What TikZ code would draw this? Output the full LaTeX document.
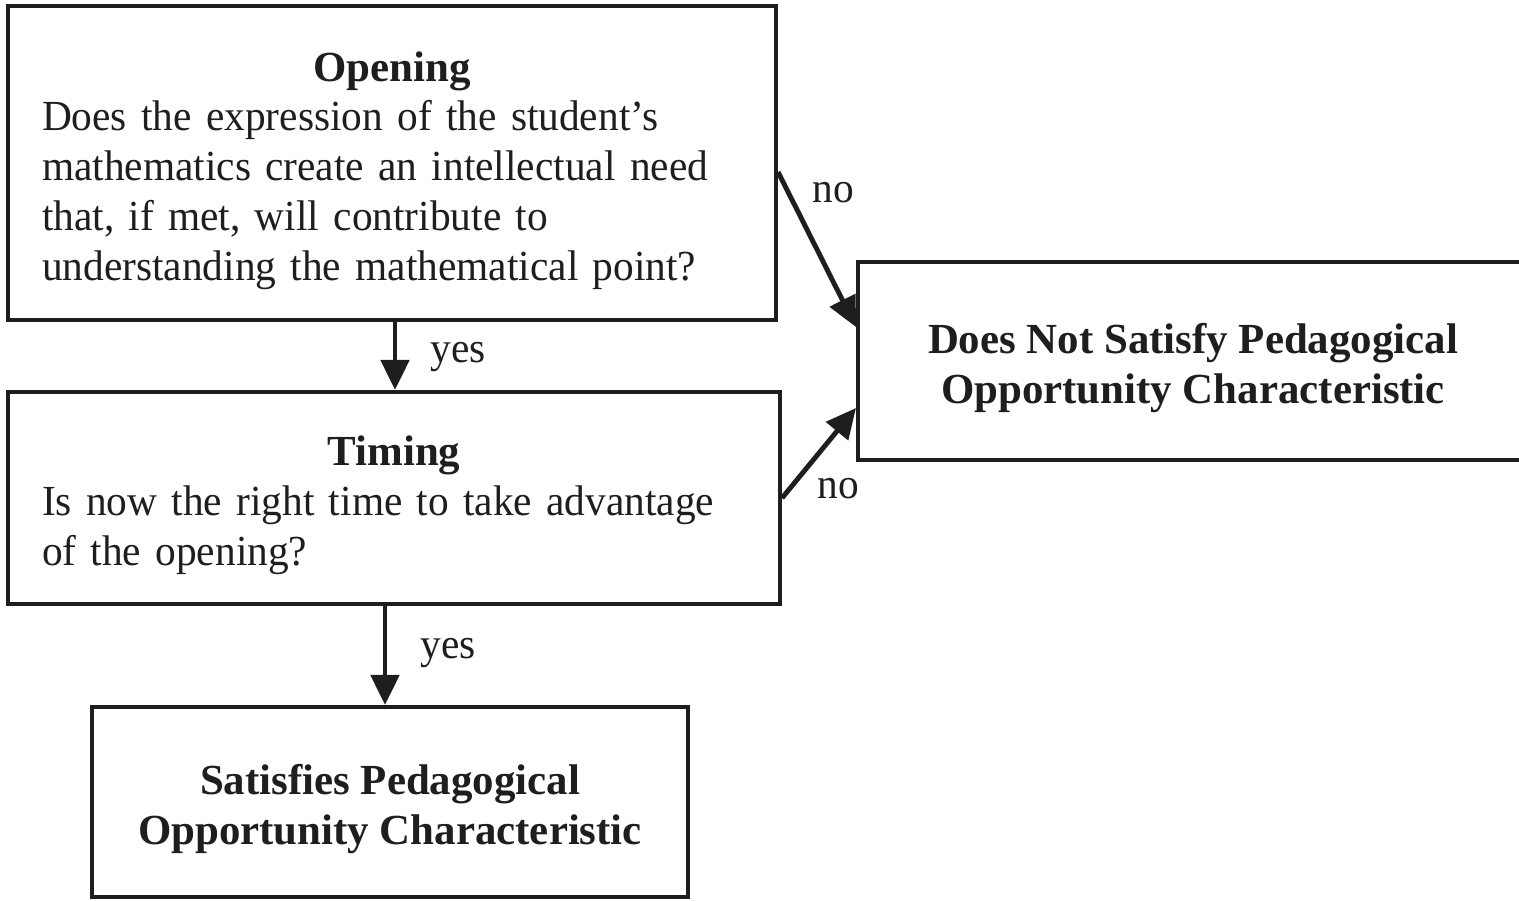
\documentclass[tikz,border=0pt]{standalone}
\usepackage{fontspec}
\setmainfont{Liberation Serif}[UprightFeatures={FakeStretch=0.965}]
\usetikzlibrary{arrows.meta}

\definecolor{inkgray}{HTML}{1E1E1E}
\newcommand{\topgap}{\rule{0pt}{0.45cm}}

\tikzset{
  BoxStyle/.style   = {draw=inkgray, text=inkgray, line width=1.15pt, rectangle, inner sep=0pt,
                       font=\fontsize{12.2}{14.2}\selectfont},
  EdgeStyle/.style  = {draw=inkgray, line width=1.4pt, -{Triangle[length=0.3cm,width=0.28cm]}},
  LabelStyle/.style = {text=inkgray, inner sep=0pt, font=\fontsize{12.2}{14.2}\selectfont}
}

\begin{document}
\begin{tikzpicture}
    \useasboundingbox (0,0) rectangle (15.19,-9.00);

    % Boxes
    \node[BoxStyle, minimum width=7.68cm, minimum height=3.14cm, text width=7.0cm, align=left]
        (Opening) at (3.92,-1.63)
        {\topgap\hfill\textbf{Opening}\hfill\mbox{}\\
         Does the expression of the student’s\\
         mathematics create an intellectual need\\
         that, if met, will contribute to\\
         understanding the mathematical point?};
    \node[BoxStyle, minimum width=7.72cm, minimum height=2.12cm, text width=7.04cm, align=left]
        (Timing) at (3.94,-4.98)
        {\topgap\hfill\textbf{Timing}\hfill\mbox{}\\
         Is now the right time to take advantage\\
         of the opening?};
    \node[BoxStyle, minimum width=5.96cm, minimum height=1.90cm, align=center, font=\fontsize{12.2}{14.2}\selectfont\bfseries]
        (Sat) at (3.90,-8.02)
        {\topgap Satisfies Pedagogical\\ Opportunity Characteristic};
    \node[BoxStyle, minimum width=6.70cm, minimum height=1.98cm, align=center, font=\fontsize{12.2}{14.2}\selectfont\bfseries]
        (NotSat) at (11.93,-3.61)
        {\topgap Does Not Satisfy Pedagogical\\ Opportunity Characteristic};

    % Edges
    \draw[EdgeStyle] ([xshift=0.03cm]Opening.south) -- ([xshift=0.03cm]Opening.south |- Timing.north);
    \draw[EdgeStyle] ([xshift=-0.05cm]Sat.north |- Timing.south) -- ([xshift=-0.05cm]Sat.north);
    \draw[EdgeStyle] ([yshift=-0.09cm]Opening.east) -- ([yshift=0.34cm]NotSat.west);
    \draw[EdgeStyle] (Timing.east) -- ([yshift=-0.47cm]NotSat.west);

    % Labels
    \node[LabelStyle] (noA)  at (8.33,-1.93) {no};
    \node[LabelStyle] (noB)  at (8.38,-4.89) {no};
    \node[LabelStyle] (yesA) at (4.58,-3.57) {yes};
    \node[LabelStyle] (yesB) at (4.48,-6.53) {yes};
\end{tikzpicture}
\end{document}
